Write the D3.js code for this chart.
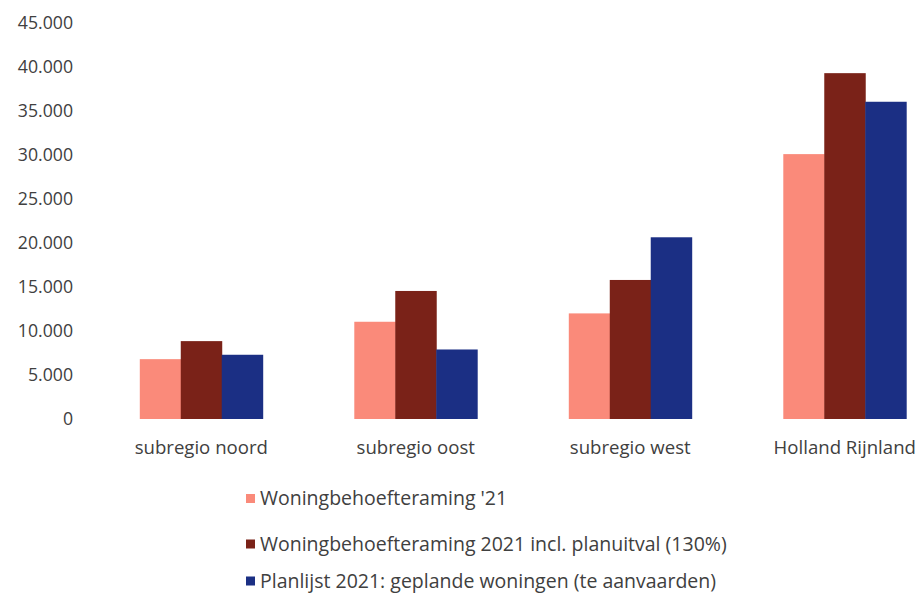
<!DOCTYPE html>
<html><head><meta charset="utf-8">
<script src="https://cdn.jsdelivr.net/npm/d3@7"></script>
<style>body{margin:0;background:#fff}svg{display:block}text{font-family:"Open Sans",sans-serif;fill:#404040}</style>
</head><body><svg id="c" width="918" height="594"></svg>
<script>
const categories = ["subregio noord","subregio oost","subregio west","Holland Rijnland"];
const seriesNames = ["Woningbehoefteraming '21","Woningbehoefteraming 2021 incl. planuitval (130%)","Planlijst 2021: geplande woningen (te aanvaarden)"];
const behoefte = [6800, 11050, 12000, 30100];
const behoeftePlanuitval = [8850, 14550, 15800, 39300];
const planlijst = [7300, 7900, 20650, 36050];
const yTicks = [0,5000,10000,15000,20000,25000,30000,35000,40000,45000];
const colors = ["#FA8A7A","#7A2218","#1B2F84"];

const series = [behoefte, behoeftePlanuitval, planlijst];
const svg = d3.select("#c");
const y = d3.scaleLinear().domain([0,45000]).range([419,23]);
const x0 = d3.scaleBand().domain(categories).range([94,952]).paddingInner(0.427).paddingOuter(0.2135);
const x1 = d3.scaleBand().domain(d3.range(3)).range([0,x0.bandwidth()]);
const fmt = d3.formatLocale({decimal:",",thousands:".",grouping:[3],currency:["€",""]}).format(",");

const yAxis = svg.append("g").attr("transform","translate(76,0)")
  .call(d3.axisLeft(y).tickValues(yTicks).tickFormat(fmt).tickSize(0).tickPadding(3));
yAxis.select(".domain").remove();
yAxis.selectAll("text").style("font-size","17.7px").attr("fill","#404040");

const g = svg.append("g");
categories.forEach((c,i)=>{
  series.forEach((s,j)=>{
    g.append("rect").attr("x",x0(c)+x1(j)).attr("width",x1.bandwidth()+0.5)
     .attr("y",y(s[i])).attr("height",y(0)-y(s[i])).attr("fill",colors[j]);
  });
});

const xAxis = svg.append("g").attr("transform","translate(0,419)")
  .call(d3.axisBottom(x0).tickSize(0).tickPadding(22));
xAxis.select(".domain").remove();
xAxis.selectAll("text").style("font-size","18.6px").attr("fill","#404040");

const leg = svg.append("g");
const legY = [498.5,544,581];
seriesNames.forEach((n,j)=>{
  leg.append("rect").attr("x",246).attr("y",legY[j]-4.5).attr("width",9).attr("height",9).attr("fill",colors[j]);
  leg.append("text").attr("x",260).attr("y",legY[j]).attr("dy","0.35em").style("font-size","19.5px").text(n);
});
</script></body></html>
